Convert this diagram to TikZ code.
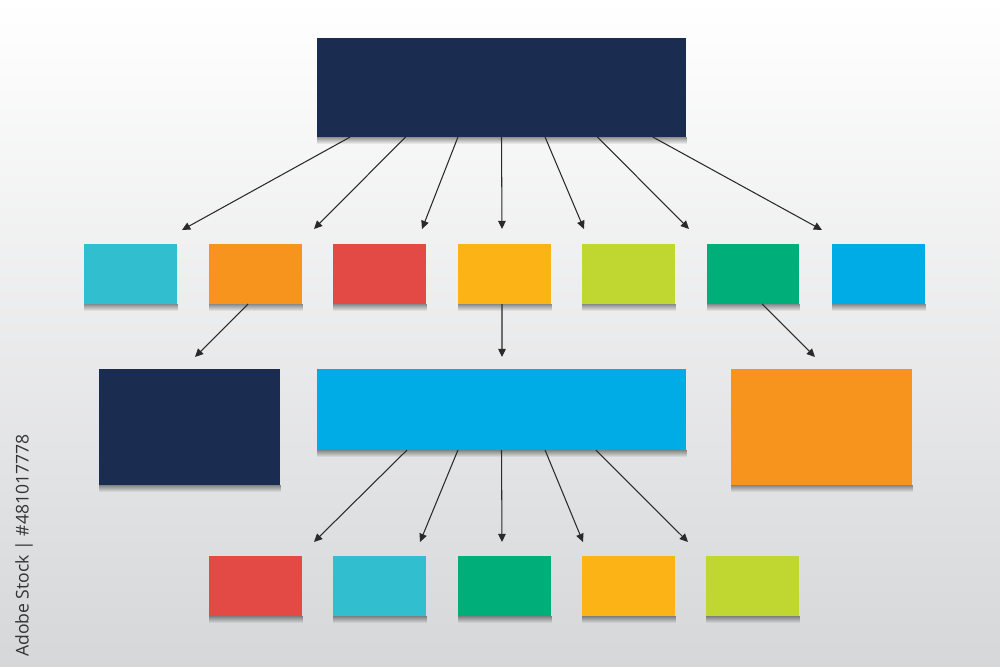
\documentclass[tikz,border=0pt]{standalone}
\usepackage{fontspec}
\newfontfamily\idfont{Open Sans}
\usetikzlibrary{arrows.meta,fit,fadings,calc}
\definecolor{navy}{HTML}{1B2C51}
\definecolor{ccyan}{HTML}{31BFD0}
\definecolor{corange}{HTML}{F7941D}
\definecolor{cred}{HTML}{E34A45}
\definecolor{cyellow}{HTML}{FBB316}
\definecolor{clime}{HTML}{BFD730}
\definecolor{cgreen}{HTML}{00AE7A}
\definecolor{cblue}{HTML}{00ACE5}
\definecolor{arrowgray}{HTML}{2A2A2A}
\definecolor{bgtop}{HTML}{FFFFFF}
\definecolor{bgmid}{HTML}{EAEAEB}
\definecolor{bgbot}{HTML}{D6D7D9}
\definecolor{idgray}{HTML}{333333}
\begin{document}
\begin{tikzpicture}[x=0.03cm,y=-0.03cm,
  box/.style={draw=none,inner sep=0pt,outer sep=0pt},
  shadowbar/.style={fill=black,opacity=0.42,path fading=south},
  conn/.style={draw=arrowgray,line width=0.9pt,-{Triangle[length=7pt,width=6.5pt]}}]
% background
\shade[top color=bgtop,middle color=bgmid,bottom color=bgbot] (0,0) rectangle (1000,666);
\useasboundingbox (0,0) rectangle (1000,666);
% top
\node[box,fill=navy,fit={(317,38) (686,137)}] (top) {};
% row 2
\node[box,fill=ccyan,fit={(84,244) (177,304)}] (a1) {};
\node[box,fill=corange,fit={(209,244) (302,304)}] (a2) {};
\node[box,fill=cred,fit={(333,244) (426,304)}] (a3) {};
\node[box,fill=cyellow,fit={(458,244) (551,304)}] (a4) {};
\node[box,fill=clime,fit={(582,244) (675,304)}] (a5) {};
\node[box,fill=cgreen,fit={(707,244) (799,304)}] (a6) {};
\node[box,fill=cblue,fit={(832,244) (925,304)}] (a7) {};
% row 3
\node[box,fill=navy,fit={(99,369) (280,485)}] (l) {};
\node[box,fill=cblue,fit={(317,369) (686,450)}] (c) {};
\node[box,fill=corange,fit={(731,369) (912,485)}] (r) {};
% row 4
\node[box,fill=cred,fit={(209,556) (302,616)}] (b1) {};
\node[box,fill=ccyan,fit={(333,556) (426,616)}] (b2) {};
\node[box,fill=cgreen,fit={(458,556) (551,616)}] (b3) {};
\node[box,fill=cyellow,fit={(582,556) (675,616)}] (b4) {};
\node[box,fill=clime,fit={(706,556) (799,616)}] (b5) {};
% shadows below boxes
\foreach \n in {top,a1,a2,a3,a4,a5,a6,a7,l,c,r,b1,b2,b3,b4,b5}
  \fill[shadowbar] (\n.south west) rectangle ($(\n.south east)+(1,7)$);
% arrow tip coordinates
\coordinate (t1) at (182,230);
\coordinate (t2) at (314,229);
\coordinate (t3) at (422,229);
\coordinate (t4) at (502,229);
\coordinate (t5) at (584,229);
\coordinate (t6) at (689,229);
\coordinate (t7) at (822,230);
\coordinate (tl) at (195,357);
\coordinate (tc) at (502,357);
\coordinate (tr) at (815,357);
\coordinate (u1) at (314,542);
\coordinate (u2) at (420,542);
\coordinate (u3) at (502,542);
\coordinate (u4) at (583,542);
\coordinate (u5) at (688,542);
% connectors from top
\foreach \f/\t in {0.09/t1,0.24/t2,0.382/t3,0.5/t4,0.618/t5,0.76/t6,0.91/t7}
  \draw[conn] ($(top.south west)!\f!(top.south east)$) -- (\t);
% row 2 to row 3
\draw[conn] ($(a2.south west)!0.42!(a2.south east)$) -- (tl);
\draw[conn] ($(a4.south west)!0.473!(a4.south east)$) -- (tc);
\draw[conn] ($(a6.south west)!0.6!(a6.south east)$) -- (tr);
% center to row 4
\foreach \f/\t in {0.244/u1,0.382/u2,0.5/u3,0.618/u4,0.756/u5}
  \draw[conn] ($(c.south west)!\f!(c.south east)$) -- (\t);
% id text
\node[rotate=90,anchor=west,inner sep=0pt,text=idgray,font=\idfont\fontsize{15}{15}\selectfont] (id) at (24,657) {Adobe Stock | \#481017778};
\end{tikzpicture}
\end{document}
